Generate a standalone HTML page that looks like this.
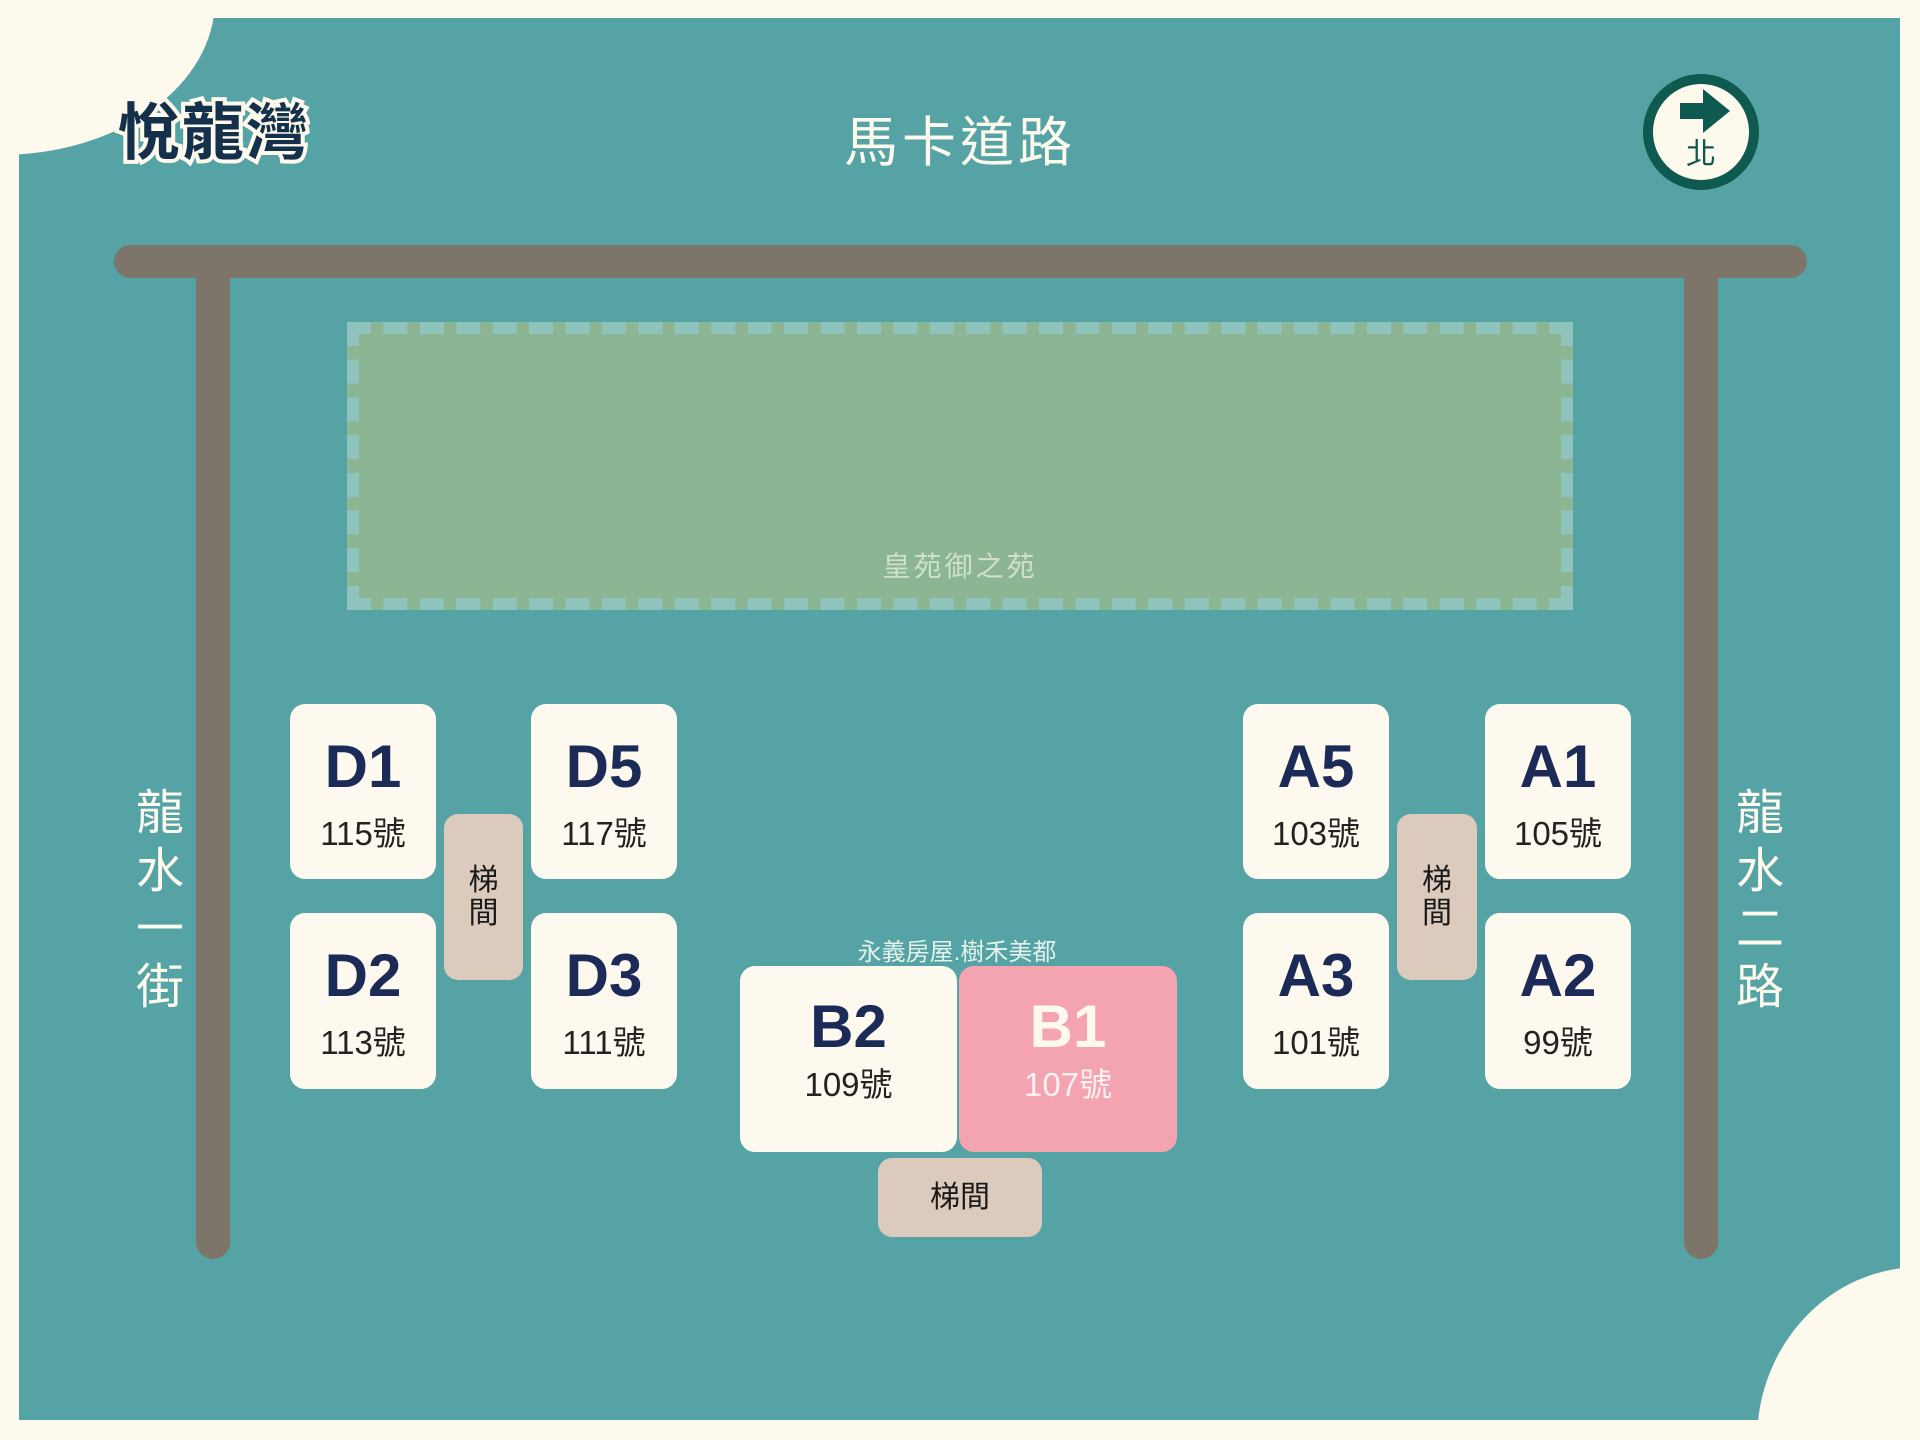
<!DOCTYPE html>
<html style="width:1920px;height:1440px;overflow:hidden"><head><meta charset="utf-8"><style>
*{margin:0;padding:0;box-sizing:border-box}
body{width:1920px;height:1440px;background:#fdf9ec;position:relative;overflow:hidden;font-family:"Liberation Sans","Noto Sans CJK TC",sans-serif}
.a{position:absolute}
.box{position:absolute;background:#fdf9ee;border-radius:15px;text-align:center}
.box .l{position:absolute;left:0;right:0;font-weight:bold;font-size:60px;color:#1b2a57;line-height:1}
.box .n{position:absolute;left:0;right:0;font-size:33px;color:#222;line-height:1}
.st{position:absolute;background:#dccbbd;border-radius:14px;color:#1a1a1a;font-size:30px;display:flex;align-items:center;justify-content:center;text-align:center;line-height:1.1}
.road{position:absolute;background:#7d7569;border-radius:17px}
.side{position:absolute;width:60px;color:#fdf9ec;font-size:48px;line-height:58px;text-align:center}
</style></head><body>
<div class="a" style="left:19px;top:18px;width:1881px;height:1402px;background:#55a3a5"></div>
<div class="a" style="left:0;top:0;width:215px;height:155px;border-bottom-right-radius:215px 155px;background:#fdf9ec"></div>
<div class="a" style="left:1757px;top:1267px;width:163px;height:173px;border-top-left-radius:163px 173px;background:#fdf9ec"></div>

<div class="a" style="left:118px;top:82px;font-size:62px;font-weight:bold;color:#14304a;-webkit-text-stroke:8px #fdf9ec;paint-order:stroke fill;letter-spacing:2px">悅龍灣</div>
<div class="a" style="left:760px;top:98px;width:400px;text-align:center;font-size:54px;color:#fdf9ec;letter-spacing:4px">馬卡道路</div>

<div class="a" style="left:1643px;top:74px;width:116px;height:116px;border-radius:50%;background:#fdf9ec;border:10px solid #0f5a50"></div>
<svg class="a" style="left:1680px;top:89px" width="50" height="45"><polygon points="0,14 23,14 23,0 50,22 23,44 23,30 0,30" fill="#0f5a50"/></svg>
<div class="a" style="left:1681px;top:140px;width:40px;text-align:center;font-size:30px;color:#0f5a50;line-height:1">北</div>

<div class="road" style="left:114px;top:245px;width:1693px;height:33px"></div>
<div class="road" style="left:196px;top:262px;width:34px;height:997px"></div>
<div class="road" style="left:1684px;top:262px;width:34px;height:997px"></div>

<div class="a" style="left:347px;top:322px;width:1226px;height:288px;background:#8bb593;border:12px dashed #8ec4bb"></div>
<div class="a" style="left:760px;top:545px;width:400px;text-align:center;font-size:28px;color:#cfe0cc;letter-spacing:3px">皇苑御之苑</div>

<div class="side" style="left:130px;top:785px">龍<br>水<br>一<br>街</div>
<div class="side" style="left:1730px;top:785px">龍<br>水<br>二<br>路</div>

<div class="box" style="left:290px;top:704px;width:146px;height:175px"><div class="l" style="top:33px">D1</div><div class="n" style="top:113px">115號</div></div>
<div class="box" style="left:290px;top:913px;width:146px;height:176px"><div class="l" style="top:33px">D2</div><div class="n" style="top:113px">113號</div></div>
<div class="box" style="left:531px;top:704px;width:146px;height:175px"><div class="l" style="top:33px">D5</div><div class="n" style="top:113px">117號</div></div>
<div class="box" style="left:531px;top:913px;width:146px;height:176px"><div class="l" style="top:33px">D3</div><div class="n" style="top:113px">111號</div></div>
<div class="box" style="left:1243px;top:704px;width:146px;height:175px"><div class="l" style="top:33px">A5</div><div class="n" style="top:113px">103號</div></div>
<div class="box" style="left:1243px;top:913px;width:146px;height:176px"><div class="l" style="top:33px">A3</div><div class="n" style="top:113px">101號</div></div>
<div class="box" style="left:1485px;top:704px;width:146px;height:175px"><div class="l" style="top:33px">A1</div><div class="n" style="top:113px">105號</div></div>
<div class="box" style="left:1485px;top:913px;width:146px;height:176px"><div class="l" style="top:33px">A2</div><div class="n" style="top:113px">99號</div></div>

<div class="st" style="left:444px;top:814px;width:79px;height:166px">梯<br>間</div>
<div class="st" style="left:1397px;top:814px;width:80px;height:166px">梯<br>間</div>

<div class="a" style="left:757px;top:932px;width:400px;text-align:center;font-size:24px;color:#e4f1ea">永義房屋.樹禾美都</div>
<div class="box" style="left:740px;top:966px;width:217px;height:186px"><div class="l" style="top:31px">B2</div><div class="n" style="top:102px">109號</div></div>
<div class="box" style="left:959px;top:966px;width:218px;height:186px;background:#f4a3b0"><div class="l" style="top:31px;color:#fdf9ee">B1</div><div class="n" style="top:102px;color:#fdf2f0">107號</div></div>
<div class="st" style="left:878px;top:1158px;width:164px;height:79px">梯間</div>
</body></html>
